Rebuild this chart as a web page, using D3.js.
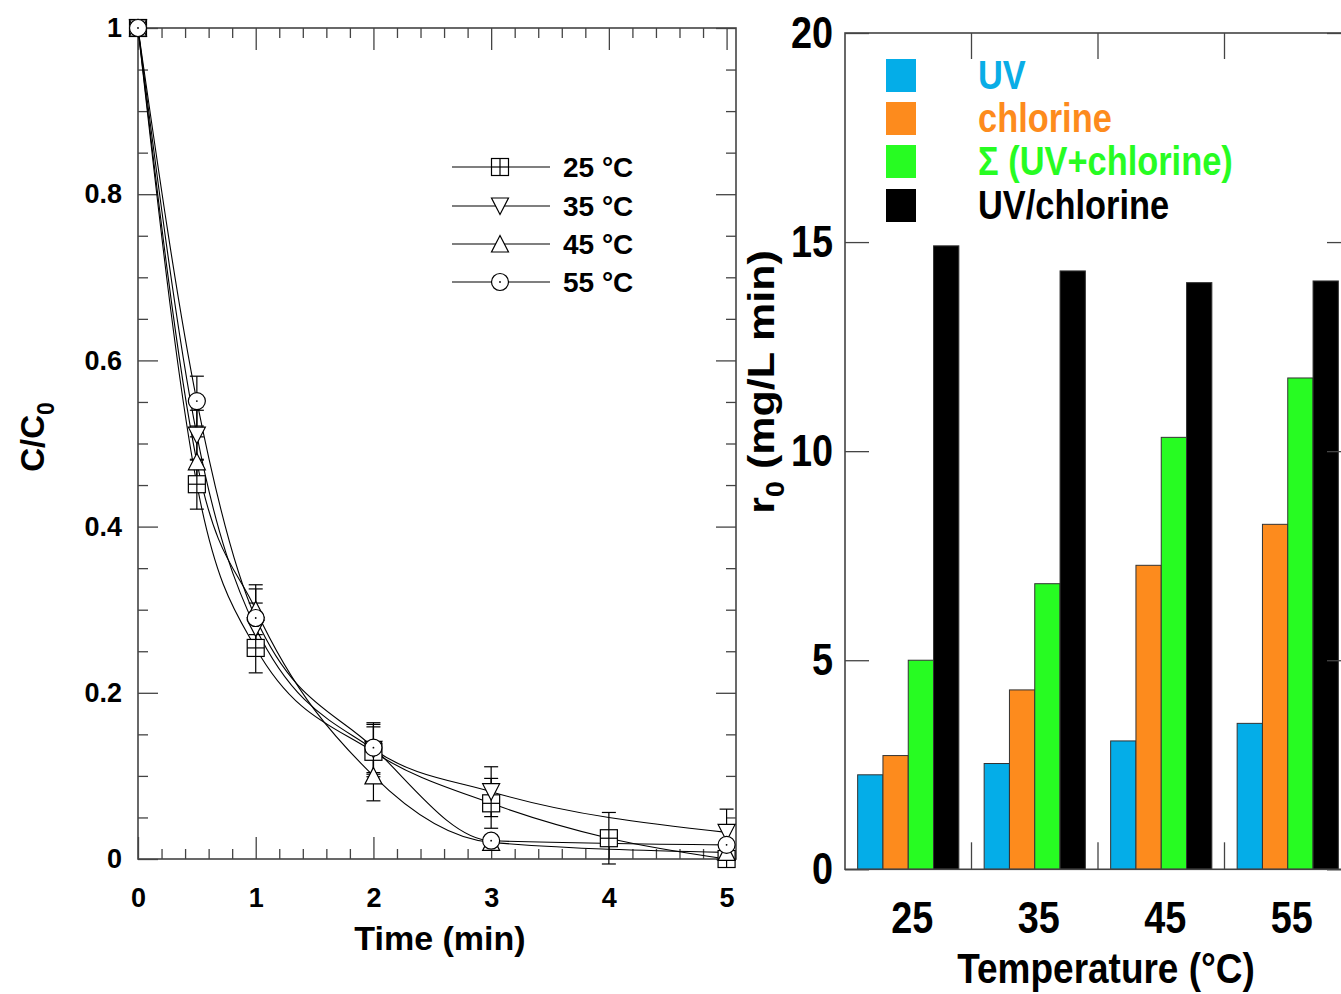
<!DOCTYPE html>
<html><head><meta charset="utf-8">
<script src="https://cdn.jsdelivr.net/npm/d3@7/dist/d3.min.js"></script>
<style>
body{margin:0;background:#fff}
text{font-family:"Liberation Sans",Arial,Helvetica,sans-serif;font-weight:bold;fill:#000}
</style>
</head><body>
<svg id="chart" width="1341" height="994"></svg>
<script>
// ---------- Data: left panel (C/C0 vs time) ----------
const timeTicks = [0, 1, 2, 3, 4, 5];
const concTicks = [0, 0.2, 0.4, 0.6, 0.8, 1];
const seriesNames = ["25 °C", "35 °C", "45 °C", "55 °C"];
const seriesSymbols = ["square", "triDown", "triUp", "circle"];

const time25 = [0, 0.5, 1, 2, 3, 4, 5];
const conc25 = [1, 0.451, 0.254, 0.129, 0.067, 0.025, 0.0];
const err25  = [0, 0.03, 0.03, 0.03, 0.03, 0.031, 0.01];

const time35 = [0, 0.5, 1, 2, 3, 5];
const conc35 = [1, 0.510, 0.278, 0.132, 0.081, 0.032];
const err35  = [0, 0.03, 0.03, 0.03, 0.03, 0.028];

const time45 = [0, 0.5, 1, 2, 3, 5];
const conc45 = [1, 0.478, 0.300, 0.100, 0.020, 0.008];
const err45  = [0, 0.03, 0.03, 0.03, 0.005, 0.005];

const time55 = [0, 0.5, 1, 2, 3, 5];
const conc55 = [1, 0.551, 0.290, 0.134, 0.022, 0.017];
const err55  = [0, 0.03, 0.035, 0.03, 0.005, 0.005];

// ---------- Data: right panel (r0 vs temperature) ----------
const temperatures = ["25", "35", "45", "55"];
const rateTicks = [0, 5, 10, 15, 20];
const barKeys = ["UV", "chlorine", "sum", "UVchlorine"];
const barLabels = ["UV", "chlorine", "\u03A3 (UV+chlorine)", "UV/chlorine"];
const barColors = ["#04ADE8", "#FD8B1D", "#27FC22", "#000000"];
const rateUV         = [2.26, 2.53, 3.07, 3.49];
const rateChlorine   = [2.72, 4.29, 7.27, 8.25];
const rateSum        = [5.00, 6.83, 10.33, 11.75];
const rateUVChlorine = [14.91, 14.31, 14.03, 14.07];

// ---------- Build ----------
const svg = d3.select("#chart");
svg.append("rect").attr("width",1341).attr("height",994).attr("fill","#fff");

const spineColor = "#444";

// ===== LEFT PANEL =====
const L = {left:138, right:736, top:28, bottom:859};
const x = d3.scaleLinear().domain([0, 5.08]).range([L.left, L.right]);
const y = d3.scaleLinear().domain([0, 1]).range([L.bottom, L.top]);

const minorX = d3.range(0, 5.0001, 0.2).filter(v => Math.abs(v - Math.round(v)) > 1e-6);
const minorY = d3.range(0, 1.0001, 0.05).filter(v => Math.abs(v*5 - Math.round(v*5)) > 1e-6);

function styleAxis(g){
  g.select(".domain").remove();
  g.selectAll(".tick line").attr("stroke", spineColor).attr("stroke-width", 1.3);
}

// bottom
svg.append("g").attr("transform",`translate(0,${L.bottom})`)
  .call(d3.axisBottom(x).tickValues(minorX).tickSize(-10).tickFormat(""))
  .call(styleAxis);
svg.append("g").attr("transform",`translate(0,${L.bottom})`)
  .call(d3.axisBottom(x).tickValues(timeTicks).tickSizeInner(-22).tickSizeOuter(0).tickPadding(29).tickFormat(d3.format("d")))
  .call(styleAxis)
  .call(g => g.selectAll("text").style("font-size","27px"));
// top
svg.append("g").attr("transform",`translate(0,${L.top})`)
  .call(d3.axisTop(x).tickValues(minorX).tickSize(-10).tickFormat(""))
  .call(styleAxis);
svg.append("g").attr("transform",`translate(0,${L.top})`)
  .call(d3.axisTop(x).tickValues(timeTicks).tickSize(-22).tickFormat(""))
  .call(styleAxis);
// left
svg.append("g").attr("transform",`translate(${L.left},0)`)
  .call(d3.axisLeft(y).tickValues(minorY).tickSize(-10).tickFormat(""))
  .call(styleAxis);
svg.append("g").attr("transform",`translate(${L.left},0)`)
  .call(d3.axisLeft(y).tickValues(concTicks).tickSizeInner(-20).tickSizeOuter(0).tickPadding(16).tickFormat(d => String(d)))
  .call(styleAxis)
  .call(g => g.selectAll("text").style("font-size","27px"));
// right
svg.append("g").attr("transform",`translate(${L.right},0)`)
  .call(d3.axisRight(y).tickValues(minorY).tickSize(-10).tickFormat(""))
  .call(styleAxis);
svg.append("g").attr("transform",`translate(${L.right},0)`)
  .call(d3.axisRight(y).tickValues(concTicks).tickSize(-20).tickFormat(""))
  .call(styleAxis);

// frame
svg.append("rect").attr("x",L.left).attr("y",L.top)
  .attr("width",L.right-L.left).attr("height",L.bottom-L.top)
  .attr("fill","none").attr("stroke",spineColor).attr("stroke-width",1.6);

const series = [
  {t:time25, c:conc25, e:err25},
  {t:time35, c:conc35, e:err35},
  {t:time45, c:conc45, e:err45},
  {t:time55, c:conc55, e:err55}
].map((s,i) => ({name:seriesNames[i], sym:seriesSymbols[i],
   pts: s.t.map((tt,j) => ({t:tt, c:s.c[j], e:s.e[j]}))}));

const line = d3.line().x(d => x(d.t)).y(d => y(d.c)).curve(d3.curveMonotoneX);
const plotG = svg.append("g");
series.forEach(s => {
  plotG.append("path").attr("d", line(s.pts)).attr("fill","none")
    .attr("stroke","#000").attr("stroke-width",1.1);
});
// error bars
series.forEach(s => {
  s.pts.filter(d => d.e > 0).forEach(d => {
    const g = plotG.append("g").attr("stroke","#000").attr("stroke-width",1.2);
    const cx = x(d.t), y1 = y(d.c + d.e), y2 = y(d.c - d.e);
    g.append("line").attr("x1",cx).attr("x2",cx).attr("y1",y1).attr("y2",y2);
    g.append("line").attr("x1",cx-7).attr("x2",cx+7).attr("y1",y1).attr("y2",y1);
    g.append("line").attr("x1",cx-7).attr("x2",cx+7).attr("y1",y2).attr("y2",y2);
  });
});

function drawSymbol(g, sym, cx, cy){
  const s = g.append("g").attr("transform",`translate(${cx},${cy})`)
    .attr("fill","#fff").attr("stroke","#000").attr("stroke-width",1.2);
  const h = 8.5;
  if (sym === "square"){
    s.append("rect").attr("x",-h).attr("y",-h).attr("width",2*h).attr("height",2*h);
    s.append("line").attr("x1",-h).attr("x2",h).attr("y1",0).attr("y2",0);
    s.append("line").attr("x1",0).attr("x2",0).attr("y1",-h).attr("y2",h);
  } else if (sym === "triDown"){
    s.append("path").attr("d",`M${-h},${-h+0.5}L${h},${-h+0.5}L0,${h}Z`);
  } else if (sym === "triUp"){
    s.append("path").attr("d",`M0,${-h}L${h},${h-0.5}L${-h},${h-0.5}Z`);
  } else {
    s.append("circle").attr("r",h);
    s.append("circle").attr("r",0.9).attr("fill","#000").attr("stroke","none");
  }
}
series.forEach(s => s.pts.forEach(d => drawSymbol(plotG, s.sym, x(d.t), y(d.c))));

// legend (left)
const legY = [167, 206, 244, 282];
series.forEach((s,i) => {
  svg.append("line").attr("x1",452).attr("x2",550).attr("y1",legY[i]).attr("y2",legY[i])
    .attr("stroke","#000").attr("stroke-width",1.1);
  drawSymbol(svg, s.sym, 500, legY[i]);
  svg.append("text").attr("x",563).attr("y",legY[i]+10).style("font-size","28px").text(s.name);
});

// axis titles (left)
svg.append("text").attr("x",440).attr("y",950).attr("text-anchor","middle")
  .style("font-size","34px").text("Time (min)");
const ylab = svg.append("text").attr("transform","translate(44,437) rotate(-90)")
  .attr("text-anchor","middle").style("font-size","33px");
ylab.append("tspan").text("C/C");
ylab.append("tspan").attr("dy",10).style("font-size","23px").text("0");

// ===== RIGHT PANEL =====
const R = {left:845, right:1351, top:33, bottom:869.3};
const sx = 0.86; // horizontal compression of text in this panel
const xb = d3.scaleBand().domain(temperatures).range([R.left, R.right]).paddingInner(0.2).paddingOuter(0.1);
const xi = d3.scaleBand().domain(barKeys).range([0, xb.bandwidth()]);
const yr = d3.scaleLinear().domain([0, 20]).range([R.bottom, R.top]);

const barData = temperatures.map((t,i) => ({t, vals:[rateUV[i], rateChlorine[i], rateSum[i], rateUVChlorine[i]]}));
const bg = svg.append("g");
barData.forEach(d => {
  d.vals.forEach((v,k) => {
    bg.append("rect").attr("x", xb(d.t) + xi(barKeys[k])).attr("width", xi.bandwidth())
      .attr("y", yr(v)).attr("height", yr(0) - yr(v))
      .attr("fill", barColors[k]).attr("stroke","#333").attr("stroke-width",1);
  });
});

// left y axis
svg.append("g").attr("transform",`translate(${R.left},0)`)
  .call(d3.axisLeft(yr).tickValues(rateTicks).tickSizeInner(-24).tickSizeOuter(0).tickPadding(14).tickFormat(d3.format("d")))
  .call(styleAxis)
  .call(g => g.selectAll("text").style("font-size","44px").attr("transform",`scale(${sx},1)`));
// right y axis (ticks only)
svg.append("g").attr("transform",`translate(${R.right},0)`)
  .call(d3.axisRight(yr).tickValues(rateTicks).tickSize(-24).tickFormat(""))
  .call(styleAxis);
// bottom category labels
svg.append("g").attr("transform",`translate(4,${R.bottom})`)
  .call(d3.axisBottom(xb).tickSize(0).tickPadding(32))
  .call(g => g.select(".domain").remove())
  .call(g => g.selectAll("text").style("font-size","44px").attr("transform",`scale(${sx},1)`));
// group boundary ticks (top & bottom)
const boundaries = temperatures.slice(1).map(t => xb(t) - xb.step()*xb.paddingInner()/2);
boundaries.forEach(bx => {
  svg.append("line").attr("x1",bx).attr("x2",bx).attr("y1",R.top).attr("y2",R.top+26)
    .attr("stroke",spineColor).attr("stroke-width",1.3);
  svg.append("line").attr("x1",bx).attr("x2",bx).attr("y1",R.bottom).attr("y2",R.bottom-27)
    .attr("stroke",spineColor).attr("stroke-width",1.3);
});
// frame
svg.append("rect").attr("x",R.left).attr("y",R.top)
  .attr("width",R.right-R.left).attr("height",R.bottom-R.top)
  .attr("fill","none").attr("stroke",spineColor).attr("stroke-width",1.6);

// legend (right)
const legRY = [59, 102, 145, 189];
const legTextColors = ["#0AADE6", "#FD8B1D", "#27FC22", "#000000"];
barLabels.forEach((lab,k) => {
  svg.append("rect").attr("x",886).attr("y",legRY[k]).attr("width",30).attr("height",33)
    .attr("fill",barColors[k]);
  svg.append("text").attr("transform",`translate(978,${legRY[k]+30}) scale(${sx},1)`)
    .style("font-size","40px").style("fill",legTextColors[k]).text(lab);
});

// axis titles (right)
svg.append("text").attr("transform",`translate(1106,983) scale(${sx},1)`)
  .attr("text-anchor","middle").style("font-size","43px").text("Temperature (\u00B0C)");
const rlab = svg.append("text").attr("transform",`translate(774,382) rotate(-90) scale(1,${sx})`)
  .attr("text-anchor","middle").style("font-size","43px");
rlab.append("tspan").text("r");
rlab.append("tspan").attr("dy",12).style("font-size","29px").text("0");
rlab.append("tspan").attr("dy",-12).text(" (mg/L min)");
</script>
</body></html>
